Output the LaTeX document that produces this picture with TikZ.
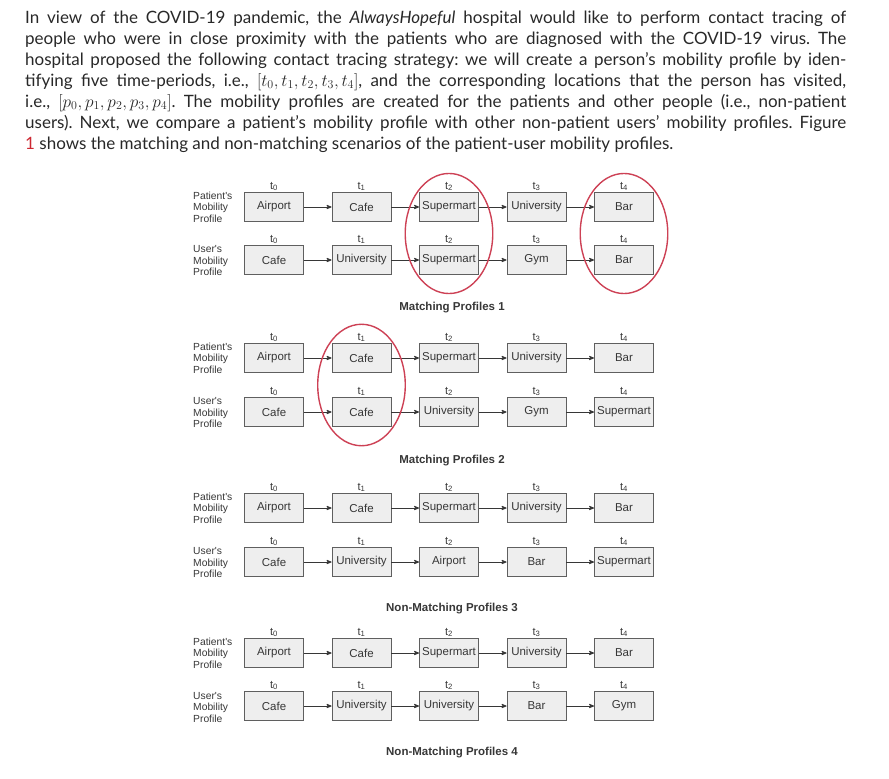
\documentclass[tikz,border=0pt]{standalone}
\usepackage{fontspec}
\setmainfont{Lato}
\newfontfamily\figfont{Liberation Sans}
\usetikzlibrary{positioning,fit,arrows,shapes.geometric}
\definecolor{bodytext}{RGB}{40,40,40}
\definecolor{linkred}{RGB}{205,40,50}
\definecolor{figtext}{RGB}{55,55,55}
\definecolor{boxline}{RGB}{95,95,95}
\definecolor{boxfill}{RGB}{238,238,238}
\definecolor{ringred}{RGB}{205,65,85}
\tikzset{>=stealth',
intro/.style={anchor=north west,text width=821pt,align=justify,inner sep=0pt,
  font=\fontsize{17}{21}\selectfont\frenchspacing,text=bodytext},
box/.style={rectangle,draw=boxline,fill=boxfill,line width=0.9pt,
  minimum width=59pt,minimum height=29pt,inner sep=1pt,
  font=\figfont\fontsize{11.5}{13}\selectfont,text=figtext},
tlab/.style={inner sep=1pt,font=\figfont\fontsize{11}{12}\selectfont,text=figtext},
rowlab/.style={anchor=west,align=left,inner sep=0pt,
  font=\figfont\fontsize{10.3}{11.5}\selectfont,text=figtext},
proftitle/.style={font=\figfont\bfseries\fontsize{11.5}{13}\selectfont,text=figtext},
flow/.style={->,line width=0.8pt,draw=figtext},
ring/.style={ellipse,draw=ringred,line width=1.4pt,inner sep=1pt},
}
\begin{document}
\begin{tikzpicture}[x=1pt,y=-1pt]
	\useasboundingbox (0,0) rectangle (889,779);

	\node[intro] (intro) at (25,10.5) {In view of the COVID-19 pandemic, the \textit{AlwaysHopeful} hospital would like to perform contact tracing of\linebreak
	people who were in close proximity with the patients who are diagnosed with the COVID-19 virus. The\linebreak
	hospital proposed the following contact tracing strategy: we will create a person's mobility profile by iden-\linebreak
	tifying five time-periods, i.e., $[t_0,t_1,t_2,t_3,t_4]$, and the corresponding locations that the person has visited,\linebreak
	i.e., $[p_0,p_1,p_2,p_3,p_4]$. The mobility profiles are created for the patients and other people (i.e., non-patient\linebreak
	users). Next, we compare a patient's mobility profile with other non-patient users' mobility profiles. Figure\linebreak
	\textcolor{linkred}{1} shows the matching and non-matching scenarios of the patient-user mobility profiles.};

	\foreach \k/\yp/\yu/\yt/\ttl/\ulist in {
		1/207/260/308/{Matching Profiles 1}/{Cafe,University,Supermart,Gym,Bar},
		2/358/412/461/{Matching Profiles 2}/{Cafe,Cafe,University,Gym,Supermart},
		3/508/562/609/{Non-Matching Profiles 3}/{Cafe,University,Airport,Bar,Supermart},
		4/653/706/753/{Non-Matching Profiles 4}/{Cafe,University,University,Bar,Gym}}
	{
		\node[rowlab] (pl\k) at (193,\yp) {Patient's\\Mobility\\Profile};
		\node[rowlab] (ul\k) at (193,\yu+1) {User's\\Mobility\\Profile};
		\foreach \place [count=\i from 0] in {Airport,Cafe,Supermart,University,Bar}
			\node[box,label={[tlab]above:{t\textsubscript{\i}}}] (p\k-\i) at (274+87.5*\i,\yp) {\place};
		\foreach \place [count=\i from 0] in \ulist
			\node[box,label={[tlab]above:{t\textsubscript{\i}}}] (u\k-\i) at (274+87.5*\i,\yu) {\place};
		\foreach \i [evaluate=\i as \j using int(\i+1)] in {0,...,3} {
			\draw[flow] (p\k-\i) -- (p\k-\j);
			\draw[flow] (u\k-\i) -- (u\k-\j);
		}
		\node[proftitle] (title\k) at (452,\yt) {\ttl};
	}

	% matching places
	\node[ring,fit=(p1-2)(u1-2)] (ring1a) {};
	\node[ring,fit=(p1-4)(u1-4)] (ring1b) {};
	\node[ring,fit=(p2-1)(u2-1)] (ring2) {};
\end{tikzpicture}
\end{document}
